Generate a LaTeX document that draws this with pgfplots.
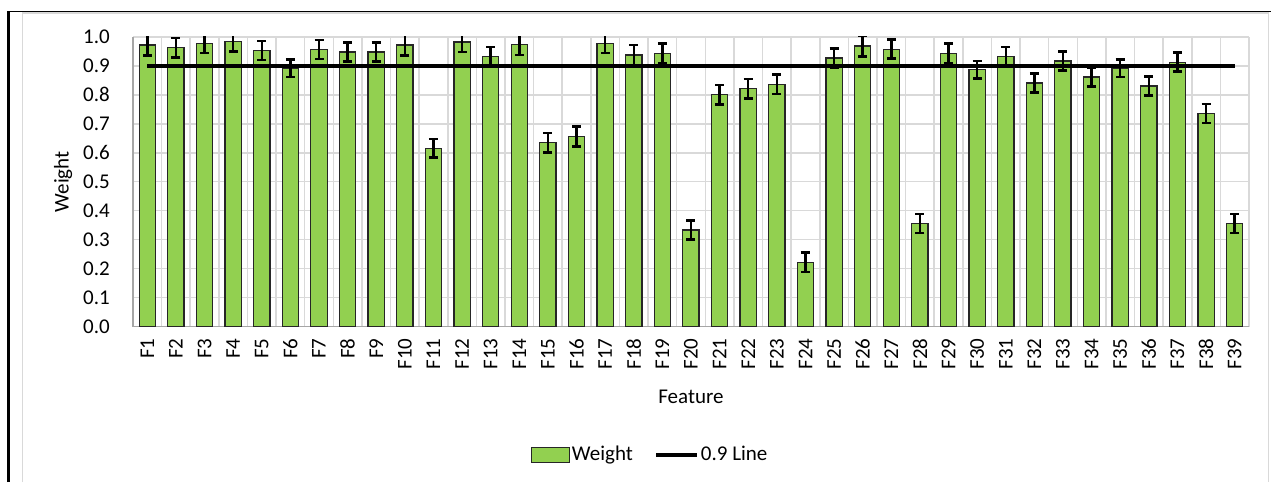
\documentclass[border=0pt]{standalone}
\usepackage{pgfplots}
\pgfplotsset{compat=1.18}
\usepackage{fontspec}
\setmainfont{Carlito}
\definecolor{barfill}{HTML}{92D050}
\definecolor{gridc}{HTML}{D9D9D9}
\definecolor{axc}{HTML}{A6A6A6}
\begin{document}
\fontsize{21pt}{25pt}\selectfont
\begin{tikzpicture}
\useasboundingbox (0,0) rectangle (1271pt,482pt);
\draw[gridc, line width=1.5pt] (22.5pt,0) -- (22.5pt,469pt) -- (1268.5pt,469pt) -- (1268.5pt,0);
\draw[black, line width=3pt] (8.5pt,0) -- (8.5pt,471pt);
\draw[black, line width=1.5pt] (7pt,470.5pt) -- (1271pt,470.5pt);
\begin{axis}[
  at={(133pt,155.5pt)}, anchor=south west,
  scale only axis, width=1116pt, height=289.5pt,
  xmin=0.5, xmax=39.5, ymin=0, ymax=1,
  xtick={1,...,39},
  xticklabels={F1,F2,F3,F4,F5,F6,F7,F8,F9,F10,F11,F12,F13,F14,F15,F16,F17,F18,F19,F20,F21,F22,F23,F24,F25,F26,F27,F28,F29,F30,F31,F32,F33,F34,F35,F36,F37,F38,F39},
  minor xtick={0.5,1.5,...,39.5},
  ytick={0,0.1,0.2,0.3,0.4,0.5,0.6,0.7,0.8,0.9,1},
  ymajorgrids, xminorgrids,
  major grid style={gridc, line width=1.5pt},
  minor grid style={gridc, line width=1.5pt},
  major tick length=0pt, minor tick length=0pt,
  axis lines*=left,
  axis line style={-, axc, line width=1.5pt},
  every outer x axis line/.append style={-},
  every outer y axis line/.append style={-},
  tick label style={font=\fontsize{21pt}{25pt}\selectfont},
  /pgf/number format/assume math mode=true,
  yticklabel style={xshift=-16pt, /pgf/number format/.cd, fixed, fixed zerofill, precision=1},
  xticklabel style={rotate=90, anchor=east, yshift=0pt, xshift=0pt},
  xticklabel shift=5pt,
  xlabel={Feature}, ylabel={Weight},
  label style={font=\fontsize{21pt}{25pt}\selectfont},
  xlabel style={at={(axis description cs:0.5,-0.2435)}, anchor=center},
  ylabel style={at={(axis description cs:-0.0627,0.5)}, anchor=center},
  legend style={at={(axis description cs:0.4633,-0.444)}, anchor=center, draw=none, fill=none,
    legend columns=2, font=\fontsize{21pt}{25pt}\selectfont,
    /tikz/every even column/.append style={column sep=20pt},
    inner sep=0pt, nodes={inner sep=1.5pt}},
]
\addplot[ybar, bar width=16.3pt, fill=barfill, draw=black!85, line width=1.3pt,
  legend image code/.code={\draw[fill=barfill, draw=black!85, line width=1.3pt] (0pt,-7.5pt) rectangle (38pt,7.5pt);},
  error bars/.cd, y dir=both, y explicit,
  error bar style={line width=2.5pt, black},
  error mark options={rotate=90, mark size=4.5pt, line width=2.5pt, black}]
coordinates {
(1,0.972) +- (0,0.036)
(2,0.963) +- (0,0.034)
(3,0.978) +- (0,0.034)
(4,0.984) +- (0,0.034)
(5,0.953) +- (0,0.033)
(6,0.892) +- (0,0.031)
(7,0.957) +- (0,0.033)
(8,0.948) +- (0,0.033)
(9,0.948) +- (0,0.033)
(10,0.972) +- (0,0.036)
(11,0.615) +- (0,0.032)
(12,0.983) +- (0,0.034)
(13,0.932) +- (0,0.034)
(14,0.973) +- (0,0.036)
(15,0.635) +- (0,0.034)
(16,0.656) +- (0,0.034)
(17,0.978) +- (0,0.034)
(18,0.938) +- (0,0.035)
(19,0.944) +- (0,0.034)
(20,0.333) +- (0,0.033)
(21,0.801) +- (0,0.034)
(22,0.821) +- (0,0.034)
(23,0.837) +- (0,0.034)
(24,0.222) +- (0,0.033)
(25,0.927) +- (0,0.033)
(26,0.969) +- (0,0.036)
(27,0.958) +- (0,0.033)
(28,0.356) +- (0,0.033)
(29,0.944) +- (0,0.033)
(30,0.887) +- (0,0.030)
(31,0.932) +- (0,0.033)
(32,0.841) +- (0,0.033)
(33,0.917) +- (0,0.033)
(34,0.862) +- (0,0.033)
(35,0.892) +- (0,0.030)
(36,0.831) +- (0,0.033)
(37,0.913) +- (0,0.033)
(38,0.736) +- (0,0.033)
(39,0.356) +- (0,0.033)
};
\addlegendentry{Weight}
\addplot[black, line width=4pt, mark=none,
  legend image code/.code={\draw[black, line width=4pt] (0pt,0pt) -- (41pt,0pt);}]
coordinates {(1,0.9) (39,0.9)};
\addlegendentry{0.9 Line}
\end{axis}
\end{tikzpicture}
\end{document}
